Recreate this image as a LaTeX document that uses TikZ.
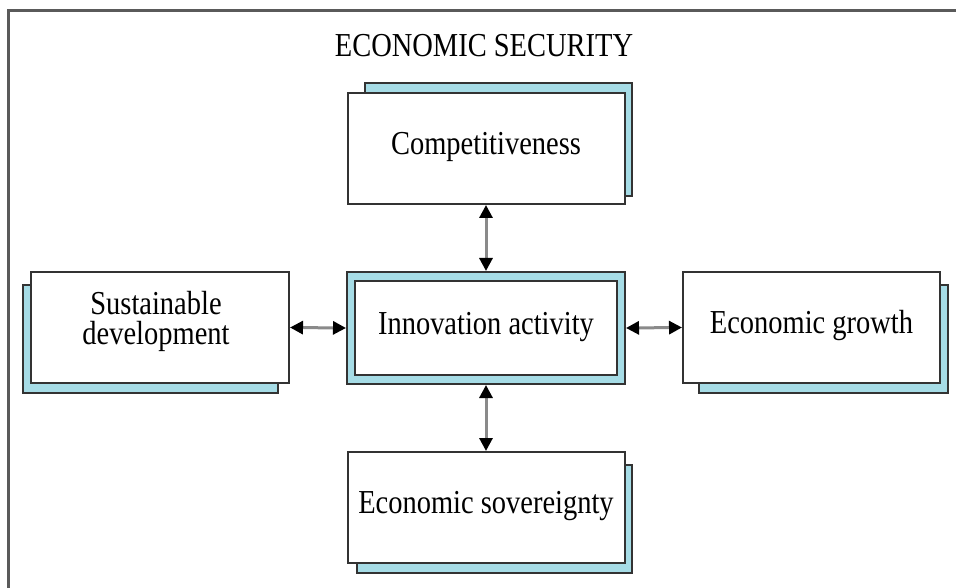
\documentclass[tikz,border=0pt]{standalone}
\usepackage{fontspec}
\setmainfont{Liberation Serif}[FakeStretch=0.85]
\usetikzlibrary{arrows.meta,calc}

\definecolor{shadowblue}{HTML}{A6DCE6}
\definecolor{edgegray}{HTML}{333333}
\definecolor{shaftgray}{HTML}{8A8A8A}
\definecolor{framegray}{HTML}{5A5A5A}

\tikzset{
  labelfont/.style={font=\fontsize{33.5}{29.5}\selectfont},
  box/.style={draw=edgegray, line width=2pt, fill=white, rectangle,
    inner sep=0pt, labelfont, text height=20pt, text depth=8pt, align=center},
  backing/.style={draw=edgegray, line width=2pt, fill=shadowblue},
  link/.style={draw=shaftgray, line width=3pt,
    {Triangle[length=13pt,width=13pt,color=black]}-{Triangle[length=13pt,width=13pt,color=black]}},
  outerframe/.style={draw=framegray, line width=2.6pt}
}

\begin{document}
\begin{tikzpicture}[x=1pt,y=-1pt]
  \useasboundingbox (0,0) rectangle (956,588);
  \clip (0,0) rectangle (956,588);
  \fill[white] (0,0) rectangle (956,588);

  % surrounding frame (runs past the page on the right and bottom)
  \draw[outerframe] (8.5,10.5) rectangle (1010,640);

  \node[labelfont, anchor=base] (title) at (484,57) {ECONOMIC SECURITY};

  % shadow plates behind the outer boxes
  \draw[backing] (365,83) rectangle (632,196);
  \draw[backing] (23,285) rectangle (278,393);
  \draw[backing] (699,285) rectangle (948,393);
  \draw[backing] (357,465) rectangle (632,573);

  % outer boxes
  \node[box, minimum width=277pt, minimum height=111pt] (comp) at (486,148.5) {Competitiveness};
  \node[box, minimum width=258pt, minimum height=111pt] (sust) at (160,327.5) {};
  \node[labelfont, align=center, anchor=base, inner sep=0pt] (sustlabel) at (156,344) {Sustainable\\development};
  \node[box, minimum width=257pt, minimum height=111pt] (growth) at (811.5,327.5) {Economic growth};
  \node[box, minimum width=277pt, minimum height=111pt] (sov) at (486,507.5) {Economic sovereignty};

  % central box with a double border
  \node[draw=edgegray, line width=2pt, fill=shadowblue, minimum width=278pt, minimum height=112pt, inner sep=0pt] (innov) at (486,328) {};
  \node[box, minimum width=262pt, minimum height=94pt] (innovin) at (486,328) {Innovation activity};

  % two-way links
  \draw[link] (comp.south) -- (innov.north);
  \draw[link] (innov.south) -- (sov.north);
  \draw[link] (sust.east) -- (innov.west);
  \draw[link] (innov.east) -- (growth.west);
\end{tikzpicture}
\end{document}
